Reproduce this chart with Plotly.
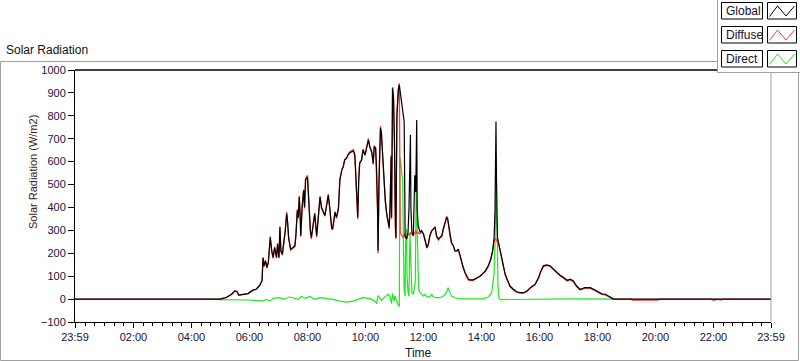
import plotly.graph_objects as go

# ---------------- data (time in minutes after midnight, -1 == 23:59 of previous day) ----------------
global_time = [-1, 299, 312, 323, 330, 334, 338, 347, 357, 367, 374, 381, 386, 388, 390, 393, 396, 399, 403, 406,
               409, 412, 416, 418, 421, 423, 425, 428, 431, 434, 437, 439, 441, 445, 450, 454, 456, 459, 461, 463,
               465, 466, 469, 472, 474, 476, 480, 482, 484, 486, 488, 490, 492, 495, 499, 502, 506, 509, 512, 516,
               519, 523, 526, 530, 532, 535, 537, 540, 544, 547, 551, 554, 557, 561, 564, 568, 571, 575, 578, 580,
               582, 584, 586, 588, 592, 595, 599, 602, 606, 609, 613, 616, 618, 621, 623, 625, 626, 628, 631, 633,
               636, 638, 641, 644, 647, 649, 651, 653, 654, 656, 658, 660, 662, 663, 665, 666, 668, 670, 672, 674,
               676, 678, 680, 681, 682, 685, 688, 690, 693, 694, 696, 699, 702, 704, 706, 707, 709, 713, 716, 720,
               723, 727, 730, 733, 737, 740, 744, 747, 751, 754, 758, 761, 765, 768, 770, 772, 775, 778, 782, 785,
               789, 792, 795, 799, 802, 806, 809, 813, 816, 823, 830, 837, 841, 848, 854, 859, 863, 866, 868, 869,
               870, 871, 873, 876, 879, 882, 886, 889, 893, 899, 906, 913, 920, 927, 934, 941, 951, 958, 963, 968,
               975, 982, 989, 996, 1003, 1010, 1017, 1024, 1030, 1037, 1044, 1054, 1065, 1072, 1079, 1089, 1096, 1103,
               1110, 1113, 1439]
global_vals = [0, 0, 7, 21, 35, 32, 17, 21, 24, 39, 43, 60, 80, 182, 145, 167, 138, 160, 269, 211,
               182, 225, 182, 240, 182, 313, 211, 196, 240, 299, 372, 335, 269, 218, 225, 233, 277, 387, 357, 445,
               357, 277, 401, 475, 401, 519, 533, 453, 343, 299, 269, 300, 328, 372, 277, 343, 445, 401, 387, 365,
               401, 453, 401, 313, 306, 357, 379, 357, 394, 519, 563, 577, 607, 614, 629, 639, 643, 647, 629, 533,
               475, 357, 519, 592, 607, 651, 629, 658, 695, 665, 643, 592, 665, 658, 563, 387, 211, 519, 746, 724,
               607, 519, 431, 372, 328, 313, 410, 621, 357, 920, 880, 680, 310, 269, 800, 870, 915, 935, 900, 870,
               820, 790, 775, 541, 277, 262, 291, 394, 717, 394, 291, 277, 541, 467, 782, 394, 321, 291, 299, 284,
               262, 225, 240, 277, 299, 306, 313, 277, 262, 269, 277, 306, 335, 357, 350, 321, 277, 247, 233, 211,
               211, 218, 196, 160, 138, 116, 101, 87, 84, 84, 92, 100, 109, 123, 145, 174, 211, 269, 387, 775,
               775, 533, 269, 240, 211, 174, 138, 109, 87, 57, 43, 32, 28, 28, 35, 50, 65, 94, 123, 145,
               149, 145, 131, 116, 104, 94, 82, 87, 79, 57, 43, 50, 50, 43, 35, 23, 21, 13,
               2, 0, 0]

diffuse_time = [-1, 299, 312, 323, 330, 334, 338, 347, 357, 367, 374, 381, 386, 388, 390, 393, 396, 399, 403, 406,
                409, 412, 416, 418, 421, 423, 425, 428, 431, 434, 437, 439, 441, 445, 450, 454, 456, 459, 461, 463,
                465, 466, 469, 472, 474, 476, 480, 482, 484, 486, 488, 490, 492, 495, 499, 502, 506, 509, 512, 516,
                519, 523, 526, 530, 532, 535, 537, 540, 544, 547, 551, 554, 557, 561, 564, 568, 571, 575, 578, 580,
                582, 584, 586, 588, 592, 595, 599, 602, 606, 609, 613, 616, 618, 621, 623, 625, 626, 628, 631, 633,
                636, 638, 641, 644, 647, 649, 651, 653, 654, 656, 658, 660, 662, 663, 665, 666, 668, 670, 672, 674,
                676, 678, 680, 681, 682, 685, 688, 690, 693, 694, 696, 699, 702, 704, 706, 707, 709, 713, 716, 720,
                723, 727, 730, 733, 737, 740, 744, 747, 751, 754, 758, 761, 765, 768, 770, 772, 775, 778, 782, 785,
                789, 792, 795, 799, 802, 806, 809, 813, 816, 823, 830, 837, 841, 848, 854, 859, 863, 866, 868, 869,
                870, 871, 873, 876, 879, 882, 886, 889, 893, 899, 906, 913, 920, 927, 934, 941, 951, 958, 963, 968,
                975, 982, 989, 996, 1003, 1010, 1017, 1024, 1030, 1037, 1044, 1054, 1065, 1072, 1079, 1089, 1096, 1103,
                1110, 1113, 1150, 1152, 1205, 1207, 1316, 1318, 1324, 1326, 1336, 1338, 1439]
diffuse_vals = [0, 0, 7, 21, 37, 33, 17, 21, 24, 39, 43, 60, 80, 178, 142, 170, 135, 160, 274, 206,
                178, 228, 178, 244, 178, 318, 206, 192, 236, 299, 380, 330, 265, 214, 222, 229, 280, 392, 352, 450,
                352, 272, 405, 478, 396, 524, 540, 450, 340, 294, 262, 300, 332, 377, 270, 348, 450, 396, 383, 362,
                405, 458, 396, 306, 302, 362, 382, 352, 398, 524, 566, 580, 610, 618, 633, 644, 647, 652, 626, 528,
                470, 350, 522, 596, 610, 656, 626, 662, 700, 662, 640, 588, 670, 662, 558, 382, 200, 524, 755, 720,
                602, 514, 426, 368, 322, 306, 415, 628, 350, 925, 876, 676, 302, 262, 805, 876, 920, 942, 290, 280,
                275, 270, 280, 285, 270, 262, 285, 280, 290, 285, 285, 277, 290, 300, 285, 290, 290, 285, 295, 284,
                262, 222, 236, 272, 296, 306, 316, 272, 258, 266, 274, 304, 338, 362, 352, 318, 272, 244, 230, 208,
                208, 214, 192, 157, 135, 113, 98, 84, 82, 82, 90, 98, 106, 120, 141, 170, 205, 250, 262, 265,
                262, 258, 250, 235, 206, 170, 134, 106, 84, 54, 40, 30, 26, 26, 33, 47, 62, 90, 120, 142,
                147, 143, 128, 113, 101, 91, 79, 84, 76, 54, 40, 47, 47, 40, 33, 21, 19, 11,
                1, 0, 0, -4, -4, 0, 0, -4, -4, 0, -4, 0, 0]

direct_time = [294, 326, 360, 388, 395, 402, 409, 423, 430, 443, 450, 461, 468, 475, 485, 495, 506, 519, 533, 547,
               561, 575, 585, 595, 609, 620, 623, 626, 633, 640, 647, 651, 654, 656, 659, 661, 665, 668, 670, 671,
               673, 675, 677, 678, 680, 682, 683, 685, 686, 688, 690, 692, 694, 696, 699, 703, 705, 706, 708, 710,
               713, 716, 720, 723, 727, 733, 737, 740, 747, 754, 761, 768, 771, 775, 778, 785, 795, 844, 854, 861,
               864, 866, 868, 869, 870, 871, 873, 874, 876, 879, 958, 1030, 1111]
direct_vals = [-2, -3, -4, -9, -1, -9, 3, 6, -1, 9, 6, -1, 12, 3, 12, -1, 6, 2, -1, -9,
               -13, -9, -1, 6, 2, -9, -20, 15, -5, 8, 22, 10, -20, 25, -9, 13, -16, -28, -30, 621,
               600, 530, 510, 320, 43, 13, 247, 306, 101, 28, 13, 291, 101, 28, 21, 72, 482, 394, 101, 43,
               28, 21, 13, 21, 10, 10, 21, 10, 6, 6, 13, 31, 50, 28, 13, 6, 1, 1, 9, 28,
               65, 109, 240, 511, 511, 372, 240, 65, 6, -2, 1, 1, 0]

series_names = ["Global", "Diffuse", "Direct"]
series_colors = ["#000000", "#ff3b3b", "#1ee81e"]

x_tick_vals = [-1, 120, 240, 360, 480, 600, 720, 840, 960, 1080, 1200, 1320, 1439]
x_tick_text = ["23:59", "02:00", "04:00", "06:00", "08:00", "10:00", "12:00", "14:00", "16:00", "18:00",
               "20:00", "22:00", "23:59"]
y_tick_vals = [-100, 0, 100, 200, 300, 400, 500, 600, 700, 800, 900, 1000]

# ---------------- layout helpers (pixel -> paper) ----------------
W, H = 800, 361
L, R, T, B = 75, 29, 70, 39
PW, PH = W - L - R, H - T - B


def px(x):
    return (x - L) / PW


def py(y):
    return (H - B - y) / PH


fig = go.Figure()
# draw order: direct, diffuse, global on top
fig.add_trace(go.Scatter(x=direct_time, y=direct_vals, mode="lines", name=series_names[2],
                         line=dict(color=series_colors[2], width=1.2)))
fig.add_trace(go.Scatter(x=diffuse_time, y=diffuse_vals, mode="lines", name=series_names[1],
                         line=dict(color=series_colors[1], width=1.3)))
fig.add_trace(go.Scatter(x=global_time, y=global_vals, mode="lines", name=series_names[0],
                         line=dict(color=series_colors[0], width=1.2)))

tick_font = dict(family="Liberation Sans, Arial, sans-serif", size=11, color="#1a1238")

fig.update_layout(
    width=W, height=H,
    margin=dict(l=L, r=R, t=T, b=B, pad=0),
    paper_bgcolor="#ffffff", plot_bgcolor="#ffffff",
    showlegend=False,
    font=dict(family="Liberation Sans, Arial, sans-serif", size=11, color="#1a1238"),
    xaxis=dict(range=[-1, 1439], tickmode="array", tickvals=x_tick_vals, ticktext=x_tick_text,
               showline=True, linecolor="#000000", linewidth=1, mirror=False,
               ticks="outside", ticklen=5, tickcolor="#000000", tickwidth=1,
               minor=dict(tickmode="linear", tick0=0, dtick=20, ticks="outside", ticklen=3,
                          tickcolor="#000000", tickwidth=1),
               showgrid=False, zeroline=False, tickfont=tick_font, fixedrange=True),
    yaxis=dict(range=[-100, 1000], tickmode="array", tickvals=y_tick_vals,
               showline=True, linecolor="#000000", linewidth=1,
               ticks="outside", ticklen=6, tickcolor="#000000", tickwidth=1,
               showgrid=False, zeroline=False, tickfont=tick_font, fixedrange=True),
)

shapes = []
# outer panel border
shapes.append(dict(type="rect", xref="paper", yref="paper", x0=px(0.5), x1=px(798.5), y0=py(360.5), y1=py(61.5),
                   line=dict(color="#a0a0a0", width=1), fillcolor="rgba(0,0,0,0)", layer="below"))
# plot frame top (black) and right (gray)
shapes.append(dict(type="line", xref="paper", yref="paper", x0=0, x1=1, y0=1, y1=1,
                   line=dict(color="#000000", width=1.5), layer="above"))
shapes.append(dict(type="line", xref="paper", yref="paper", x0=1, x1=1, y0=0, y1=1,
                   line=dict(color="#a0a0a0", width=1), layer="above"))
# legend panel
shapes.append(dict(type="rect", xref="paper", yref="paper", x0=px(717.5), x1=px(805), y0=py(72.5), y1=py(-5),
                   line=dict(color="#a0a0a0", width=1), fillcolor="#ffffff", layer="above"))
row_tops = [2, 26, 50]
for i, top in enumerate(row_tops):
    shapes.append(dict(type="rect", xref="paper", yref="paper", x0=px(721.5), x1=px(762.5),
                       y0=py(top + 17), y1=py(top + 0.5),
                       line=dict(color="#000000", width=1), fillcolor="#ffffff", layer="above"))
    shapes.append(dict(type="rect", xref="paper", yref="paper", x0=px(767.5), x1=px(796.5),
                       y0=py(top + 17), y1=py(top + 0.5),
                       line=dict(color="#000000", width=1), fillcolor="#ffffff", layer="above"))
    pts = [(769.5, top + 14.5), (777.5, top + 4), (786, top + 14), (794.5, top + 4)]
    path = "M " + " L ".join(f"{px(a):.5f},{py(b):.5f}" for a, b in pts)
    shapes.append(dict(type="path", xref="paper", yref="paper", path=path,
                       line=dict(color=series_colors[i], width=1), layer="above"))

annotations = []
annotations.append(dict(text="Solar Radiation", xref="paper", yref="paper", x=px(4), y=py(50),
                        xanchor="left", yanchor="middle", showarrow=False,
                        font=dict(family="Liberation Sans, Arial, sans-serif", size=12, color="#101010")))
annotations.append(dict(text="Solar Radiation (W/m2)", xref="paper", yref="paper", x=px(33), y=py(172),
                        xanchor="center", yanchor="middle", textangle=-90, showarrow=False,
                        font=dict(family="Liberation Sans, Arial, sans-serif", size=11, color="#3a1a10")))
annotations.append(dict(text="Time", xref="paper", yref="paper", x=px(418), y=py(353),
                        xanchor="center", yanchor="middle", showarrow=False,
                        font=dict(family="Liberation Sans, Arial, sans-serif", size=12, color="#101030")))
for i, top in enumerate(row_tops):
    annotations.append(dict(text=series_names[i], xref="paper", yref="paper", x=px(724), y=py(top + 9),
                            xanchor="left", yanchor="middle", showarrow=False,
                            font=dict(family="Liberation Sans, Arial, sans-serif", size=12, color="#101030")))

fig.update_layout(shapes=shapes, annotations=annotations)

fig.write_html("out.html",
               config={"displayModeBar": False, "staticPlot": True},
               post_script="document.body.style.margin='0';document.body.style.padding='0';"
                           "document.documentElement.style.overflow='hidden';")
